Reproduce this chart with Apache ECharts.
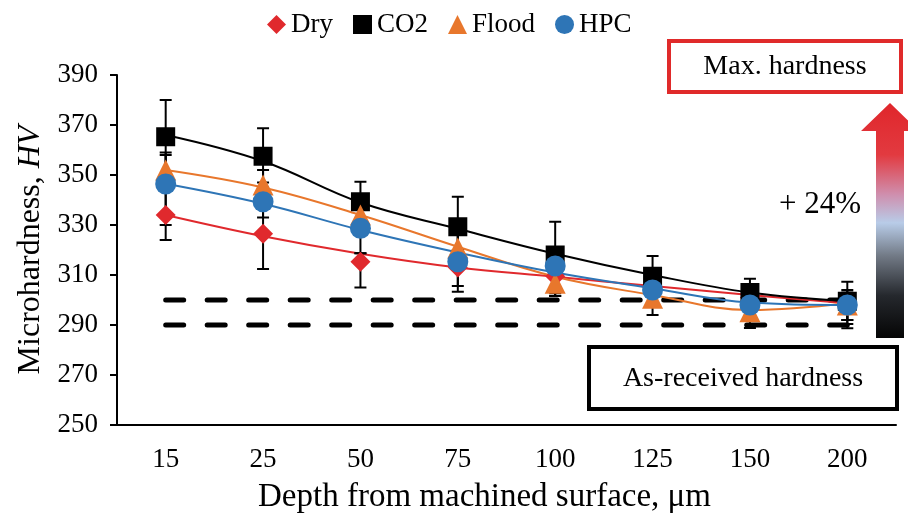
<!DOCTYPE html>
<html>
<head>
<meta charset="utf-8">
<script src="https://cdn.jsdelivr.net/npm/echarts@6/dist/echarts.min.js"></script>
<style>html,body{margin:0;padding:0;background:#fff}#c{width:908px;height:521px}</style>
</head>
<body>
<div id="c"></div>
<script>
const categories = ['15','25','50','75','100','125','150','200'];
const yTicks = { min: 250, max: 390, interval: 20 };

// measured markers
const dryVals   = [334, 326.5, 315.3, 313, 309.5, 305, 301, 298];
const co2Vals   = [365.3, 357.5, 339.3, 329.3, 318, 309.5, 303, 299.5];
const floodVals = [352, 346, 334, 320.8, 306.7, 300.7, 295.3, 298];
const hpcVals   = [346.4, 339.3, 328.7, 315.3, 313.6, 304, 298, 298];

// trend lines
const dryTrend   = [334, 325.5, 318.5, 313, 309.3, 305.6, 302, 298.7];
const co2Trend   = [366, 355.5, 339, 328.5, 318.5, 310, 303, 299.5];
const floodTrend = [352, 345, 334, 321.3, 309.3, 302, 296, 298.7];
const hpcTrend   = [346.5, 338.5, 328, 319, 311, 304.7, 299, 298];

// error bars [low, high]
const dryErrLow    = [324, 312.4, 305, 305.6, 301.6, 302, 297, 290.4];
const dryErrHigh   = [344, 341, 318.7, 320, 317, 308, 305, 302];
const co2ErrLow    = [350, 347, 331, 318, 309, 302, 296, 292];
const co2ErrHigh   = [380, 368.7, 347.3, 341.3, 331.3, 317.6, 308.5, 307.3];
const floodErrLow  = [346, 340, 328, 315, 302.7, 294, 288.8, 288.7];
const floodErrHigh = [358, 352, 340, 326, 311, 306, 301, 303];
const hpcErrLow    = [330, 333, 318.7, 303.3, 301.6, 298, 292, 292];
const hpcErrHigh   = [359, 345, 338.7, 327, 320, 310, 303, 304];

// as-received hardness band
const asReceivedLow = 290;
const asReceivedHigh = 300;

const FONT = 'Liberation Serif';

function errData(lo, hi) { return lo.map((l, i) => [i, l, hi[i]]); }
function renderErr(params, api) {
  const i = api.value(0);
  const lo = api.coord([i, api.value(1)]);
  const hi = api.coord([i, api.value(2)]);
  const w = 6;
  const st = { stroke: '#000', lineWidth: 2 };
  return { type: 'group', children: [
    { type: 'line', shape: { x1: lo[0], y1: lo[1], x2: hi[0], y2: hi[1] }, style: st },
    { type: 'line', shape: { x1: lo[0]-w, y1: lo[1], x2: lo[0]+w, y2: lo[1] }, style: st },
    { type: 'line', shape: { x1: hi[0]-w, y1: hi[1], x2: hi[0]+w, y2: hi[1] }, style: st }
  ]};
}
function errSeries(lo, hi) {
  return { type: 'custom', renderItem: renderErr, data: errData(lo, hi), z: 3, silent: true,
           encode: { x: 0, y: [1, 2] } };
}
function trend(name, data, color) {
  return { name: name, type: 'line', data: data, smooth: 0.4, symbol: 'none', z: 2,
           lineStyle: { color: color, width: 2 } };
}
function marks(name, data, symbol, size, color) {
  return { name: name, type: 'scatter', data: data, symbol: symbol, symbolSize: size, z: 5,
           itemStyle: { color: color, opacity: 1 } };
}
function dashed(v) {
  return { type: 'line', data: categories.map(() => v), symbol: 'none', z: 1, silent: true,
           lineStyle: { color: '#000', width: 5, type: [18, 23.5], cap: 'round' } };
}

const RED = '#e0292d', BLACK = '#000000', ORANGE = '#e8772c', BLUE = '#2e75b6';

const chart = echarts.init(document.getElementById('c'), null, { renderer: 'canvas' });
chart.setOption({
  animation: false,
  backgroundColor: '#fff',
  textStyle: { fontFamily: FONT },
  legend: {
    data: ['Dry', 'CO2', 'Flood', 'HPC'],
    left: 262, top: 6, itemWidth: 19, itemHeight: 19, itemGap: 20,
    textStyle: { fontFamily: FONT, fontSize: 27, color: '#000' }
  },
  grid: { left: 117, right: 12, top: 75, bottom: 96 },
  xAxis: {
    type: 'category', data: categories, boundaryGap: true,
    name: 'Depth from machined surface, μm', nameLocation: 'middle', nameGap: 56,
    nameTextStyle: { fontFamily: FONT, fontSize: 33, color: '#000', padding: [0, 44, 0, 0] },
    axisLine: { lineStyle: { color: '#000', width: 2 } },
    axisTick: { alignWithLabel: true, length: 7, lineStyle: { color: '#000', width: 2 } },
    axisLabel: { fontFamily: FONT, fontSize: 27, color: '#000', margin: 21 }
  },
  yAxis: {
    type: 'value', min: yTicks.min, max: yTicks.max, interval: yTicks.interval,
    name: '{a|Microhardness, }{b|HV}', nameLocation: 'middle', nameGap: 70, nameRotate: 90,
    nameTextStyle: { fontFamily: FONT, fontSize: 32, color: '#000',
      rich: { a: { fontFamily: FONT, fontSize: 32, color: '#000' },
              b: { fontFamily: FONT, fontSize: 32, color: '#000', fontStyle: 'italic' } } },
    splitLine: { show: false },
    axisLine: { show: true, lineStyle: { color: '#000', width: 2 } },
    axisTick: { show: true, length: 7, lineStyle: { color: '#000', width: 2 } },
    axisLabel: { fontFamily: FONT, fontSize: 27, color: '#000', margin: 19 }
  },
  series: [
    dashed(asReceivedHigh),
    dashed(asReceivedLow),
    trend('Dry trend', dryTrend, RED),
    trend('CO2 trend', co2Trend, BLACK),
    trend('Flood trend', floodTrend, ORANGE),
    trend('HPC trend', hpcTrend, BLUE),
    errSeries(dryErrLow, dryErrHigh),
    errSeries(co2ErrLow, co2ErrHigh),
    errSeries(floodErrLow, floodErrHigh),
    errSeries(hpcErrLow, hpcErrHigh),
    marks('Dry', dryVals, 'diamond', 20, RED),
    marks('CO2', co2Vals, 'rect', 19, BLACK),
    marks('Flood', floodVals, 'triangle', 21, ORANGE),
    marks('HPC', hpcVals, 'circle', 21, BLUE)
  ],
  graphic: [
    { type: 'rect', shape: { x: 669, y: 41, width: 232, height: 51 },
      style: { fill: '#fff', stroke: '#e02a2a', lineWidth: 4 }, z: 10 },
    { type: 'text', x: 785, y: 67, z: 11,
      style: { text: 'Max. hardness', font: '28px "Liberation Serif"', fill: '#000',
               textAlign: 'center', textVerticalAlign: 'middle' } },
    { type: 'polygon', z: 10,
      shape: { points: [[890, 103], [861, 131], [876, 131], [876, 338], [904, 338], [904, 131], [919, 131]] },
      style: { fill: { type: 'linear', x: 0, y: 0, x2: 0, y2: 1, colorStops: [
        { offset: 0, color: '#e0262b' }, { offset: 0.22, color: '#e23a40' },
        { offset: 0.39, color: '#cf8fae' }, { offset: 0.51, color: '#b8cce8' },
        { offset: 0.65, color: '#727a86' }, { offset: 0.82, color: '#25282d' },
        { offset: 1, color: '#050505' } ] } } },
    { type: 'text', x: 820, y: 205, z: 11,
      style: { text: '+ 24%', font: '31px "Liberation Serif"', fill: '#000',
               textAlign: 'center', textVerticalAlign: 'middle' } },
    { type: 'rect', shape: { x: 589, y: 347, width: 308, height: 62 },
      style: { fill: '#fff', stroke: '#000', lineWidth: 4 }, z: 10 },
    { type: 'text', x: 743, y: 379, z: 11,
      style: { text: 'As-received hardness', font: '28px "Liberation Serif"', fill: '#000',
               textAlign: 'center', textVerticalAlign: 'middle' } }
  ]
});
</script>
</body>
</html>
